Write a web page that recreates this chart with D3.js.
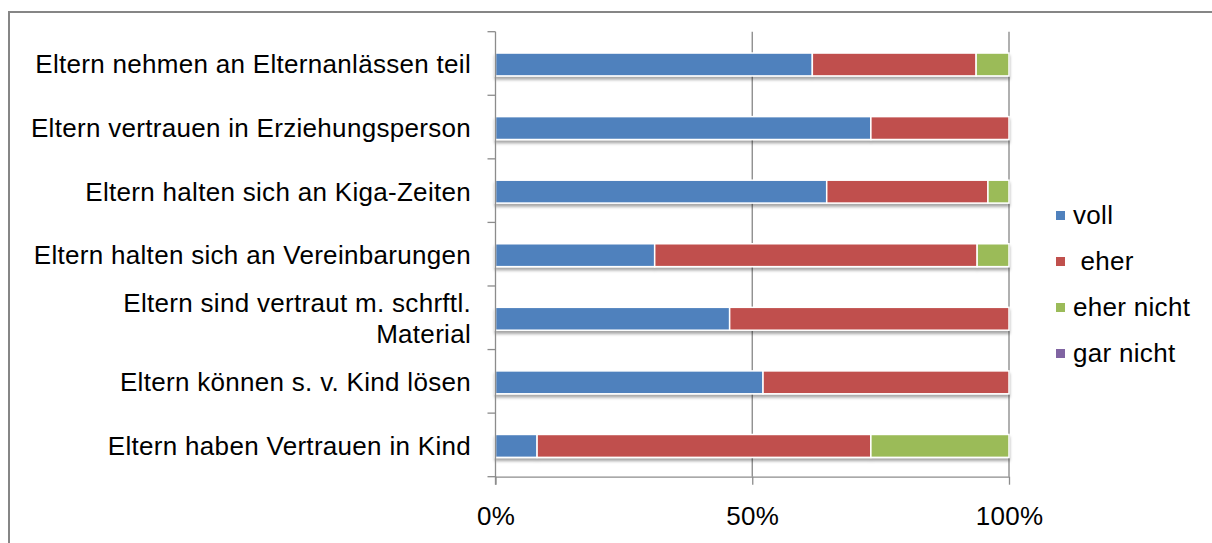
<!DOCTYPE html>
<html>
<head>
<meta charset="utf-8">
<script src="https://cdn.jsdelivr.net/npm/d3@7"></script>
<style>
  html, body { margin: 0; padding: 0; background: #fff; }
  svg { display: block; }
  text { font-family: "Liberation Sans", Arial, sans-serif; fill: #000; }
</style>
</head>
<body>
<svg id="chart" width="1212" height="543"></svg>
<script>
// ---- data ----
const categories = [
  "Eltern nehmen an Elternanlässen teil",
  "Eltern vertrauen in Erziehungsperson",
  "Eltern halten sich an Kiga-Zeiten",
  "Eltern halten sich an Vereinbarungen",
  "Eltern sind vertraut m. schrftl.|Material",
  "Eltern können s. v. Kind lösen",
  "Eltern haben Vertrauen in Kind"
];
const seriesNames = ["voll", " eher", "eher nicht", "gar nicht"];
const voll      = [61.7, 73.1, 64.5, 31.0, 45.6, 52.1, 8.1];
const eher      = [31.9, 26.9, 31.4, 62.8, 54.4, 47.9, 65.0];
const eherNicht = [6.4, 0, 4.1, 6.2, 0, 0, 26.9];
const garNicht  = [0, 0, 0, 0, 0, 0, 0];
const seriesColors = ["#4F81BD", "#C0504D", "#9BBB59", "#8064A2"];
const xTickValues = [0, 0.5, 1];

const svg = d3.select("#chart");

// shadow filter
const defs = svg.append("defs");
const f = defs.append("filter").attr("id", "shadow")
  .attr("x", "-5%").attr("y", "-30%").attr("width", "110%").attr("height", "180%");
f.append("feDropShadow").attr("dx", 0).attr("dy", 3).attr("stdDeviation", 1.6)
  .attr("flood-color", "#000").attr("flood-opacity", 0.35);

// outer frame
svg.append("rect").attr("x", 9).attr("y", 12).attr("width", 1260).attr("height", 600)
  .attr("fill", "none").attr("stroke", "#868686").attr("stroke-width", 2);

const plotTop = 31.7, plotBottom = 476.7;
const x = d3.scaleLinear().domain([0, 1]).range([495.5, 1009]);
const y = d3.scaleBand().domain(categories).range([plotTop, plotBottom])
  .paddingInner(0.64).paddingOuter(0.32);

// gridlines
svg.append("g").selectAll("line").data([0.5, 1]).join("line")
  .attr("x1", d => x(d)).attr("x2", d => x(d))
  .attr("y1", plotTop).attr("y2", plotBottom)
  .attr("stroke", "#868686").attr("stroke-width", 1.3);

// stacked data
const rows = categories.map((c, i) => ({cat: c, vals: [voll[i], eher[i], eherNicht[i], garNicht[i]]}));
const stack = d3.stack().keys([0, 1, 2, 3]).value((d, k) => d.vals[k] / 100);
const stacked = stack(rows);

const barGroups = svg.append("g").selectAll("g.row").data(rows).join("g")
  .attr("class", "row").attr("filter", "url(#shadow)");
barGroups.each(function(r, ri) {
  const g = d3.select(this);
  const segs = stacked.map((s, k) => ({k, x0: s[ri][0], x1: s[ri][1]})).filter(d => d.x1 - d.x0 > 0);
  g.selectAll("rect").data(segs).join("rect")
    .attr("x", d => x(d.x0)).attr("width", d => x(d.x1) - x(d.x0))
    .attr("y", y(r.cat) + 1).attr("height", y.bandwidth())
    .attr("fill", d => seriesColors[d.k])
    .attr("stroke", "#fff").attr("stroke-width", 1.5);
});

// y axis line + ticks at band boundaries
const axisColor = "#8c8c8c";
const yAxisG = svg.append("g");
yAxisG.append("line").attr("x1", x(0)).attr("x2", x(0))
  .attr("y1", plotTop).attr("y2", plotBottom + 8)
  .attr("stroke", axisColor).attr("stroke-width", 1.3);
const boundaries = d3.range(categories.length + 1).map(i => plotTop + i * y.step());
yAxisG.selectAll("line.tk").data(boundaries).join("line").attr("class", "tk")
  .attr("x1", x(0) - 8).attr("x2", x(0)).attr("y1", d => d).attr("y2", d => d)
  .attr("stroke", axisColor).attr("stroke-width", 1.3);

// x axis
const xAxisG = svg.append("g").attr("transform", `translate(0,${plotBottom})`)
  .call(d3.axisBottom(x).tickValues(xTickValues).tickSize(8).tickSizeOuter(0)
    .tickFormat(d3.format(".0%")));
xAxisG.select(".domain").attr("stroke", axisColor).attr("stroke-width", 1.3);
xAxisG.selectAll(".tick line").attr("stroke", axisColor).attr("stroke-width", 1.3);
xAxisG.selectAll(".tick text").attr("y", 48).attr("dy", 0)
  .style("font-size", "26px").style("letter-spacing", "0.3px")
  .attr("font-family", null).attr("fill", "#000");

// category labels
const labG = svg.append("g");
categories.forEach(c => {
  const lines = c.split("|");
  const cy = y(c) + y.bandwidth() / 2 + 1;
  const t = labG.append("text").attr("text-anchor", "end")
    .style("font-size", "26px").style("letter-spacing", "0.3px");
  const lh = 31;
  lines.forEach((ln, i) => {
    t.append("tspan").attr("x", 471)
      .attr("y", cy + 9 + (i - (lines.length - 1) / 2) * lh)
      .text(ln);
  });
});

// legend
const legend = svg.append("g").selectAll("g").data(seriesNames).join("g")
  .attr("transform", (d, i) => `translate(1056, ${224 + i * 46})`);
legend.append("rect").attr("x", 0).attr("y", -13).attr("width", 9).attr("height", 9)
  .attr("fill", (d, i) => seriesColors[i]);
legend.append("text").attr("x", 17).attr("y", 0)
  .style("font-size", "26px").style("letter-spacing", "0.3px")
  .style("white-space", "pre").attr("xml:space", "preserve")
  .text(d => d);
</script>
</body>
</html>
